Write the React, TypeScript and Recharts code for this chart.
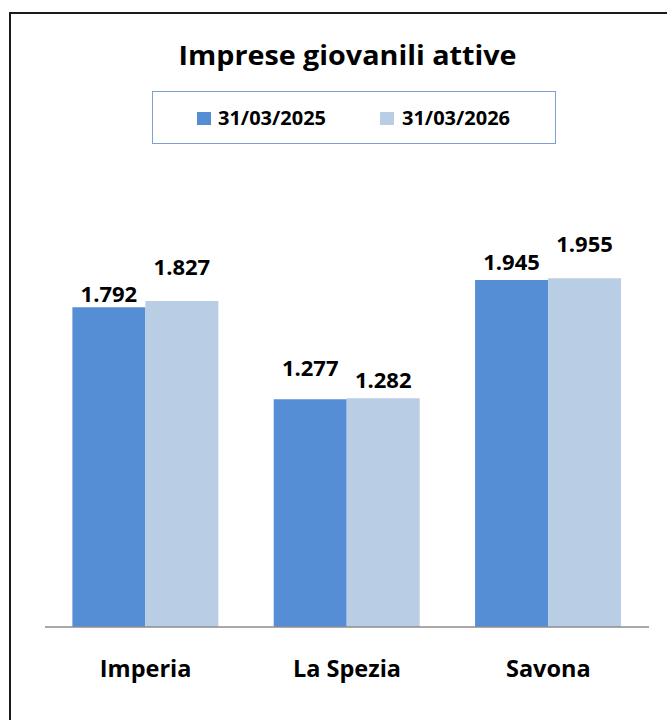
import React from 'react';
import { BarChart, Bar, XAxis, YAxis, LabelList } from 'recharts';

const title = 'Imprese giovanili attive';
const categories = ['Imperia', 'La Spezia', 'Savona'];
const seriesNames = ['31/03/2025', '31/03/2026'];
const values2025 = [1792, 1277, 1945];
const values2026 = [1827, 1282, 1955];
const yDomain = [0, 2500];

const seriesValues = [values2025, values2026];
const COLORS = ['#558ED5', '#B9CDE5'];
// manual label lift (px above bar top) per series / category, as in the original
const LABEL_RAISE = [
  [5.6, 23.6, 10.5],
  [25.6, 10.7, 26.7],
];
const FONT = "'Open Sans', 'Noto Sans', sans-serif";

const data = categories.map((c, i) => ({ name: c, s0: values2025[i], s1: values2026[i] }));

const fmt = (v: number) => String(v).replace(/\B(?=(\d{3})+(?!\d))/g, '.');

const CatTick = (props: any) => {
  const { x, y, payload } = props;
  return (
    <text x={x} y={y + 49.5} textAnchor="middle" fontFamily={FONT} fontWeight={700} fontSize={23.5} fill="#000">
      {payload.value}
    </text>
  );
};

const makeLabel = (si: number) => (props: any) => {
  const vb = props.viewBox && props.viewBox.width !== undefined ? props.viewBox : props;
  const { x, y, width } = vb;
  const value = props.value;
  let index = props.index;
  if (index === undefined || index === null) index = seriesValues[si].indexOf(Number(value));
  const raise = LABEL_RAISE[si][index] ?? 8;
  return (
    <text
      x={x + width / 2}
      y={y - raise}
      textAnchor="middle"
      fontFamily={FONT}
      fontWeight={700}
      fontSize={22}
      fill="#000"
    >
      {fmt(Number(value))}
    </text>
  );
};

export default function App() {
  return (
    <div style={{ position: 'absolute', left: 0, top: 0, width: 667, height: 720, background: '#fff', overflow: 'hidden' }}>
      <div
        style={{
          position: 'absolute',
          left: 9,
          top: 12,
          width: 720,
          height: 760,
          borderLeft: '2px solid #1a1a1a',
          borderTop: '2px solid #1a1a1a',
        }}
      />
      <svg style={{ position: 'absolute', left: 0, top: 0 }} width={667} height={90}>
        <text
          x={347.5}
          y={65}
          textAnchor="middle"
          fontFamily={FONT}
          fontWeight={700}
          fontSize={26.5}
          textLength={338}
          lengthAdjust="spacingAndGlyphs"
          fill="#000"
        >
          {title}
        </text>
      </svg>
      <div
        style={{
          position: 'absolute',
          left: 152,
          top: 91,
          width: 404,
          height: 53,
          border: '1.3px solid #7f9fd0',
          boxSizing: 'border-box',
          fontFamily: FONT,
        }}
      >
        {seriesNames.map((n, i) => (
          <React.Fragment key={n}>
            <div
              style={{
                position: 'absolute',
                left: i === 0 ? 44 : 227,
                top: 20,
                width: 14,
                height: 13,
                background: COLORS[i],
              }}
            />
            <div
              style={{
                position: 'absolute',
                left: i === 0 ? 65 : 249,
                top: 12,
                fontSize: 20,
                fontWeight: 700,
                lineHeight: '28px',
                color: '#000',
                whiteSpace: 'nowrap',
              }}
            >
              {n}
            </div>
          </React.Fragment>
        ))}
      </div>
      <div style={{ position: 'absolute', left: 0, top: 0 }}>
        <BarChart
          width={667}
          height={720}
          data={data}
          margin={{ top: 181, right: 18, left: 45, bottom: 0 }}
          barCategoryGap="13.6%"
          barGap={0}
        >
          <YAxis hide domain={yDomain} />
          <XAxis
            dataKey="name"
            interval={0}
            height={93}
            tickLine={false}
            tickSize={0}
            tickMargin={0}
            axisLine={{ stroke: '#8c8c8c', strokeWidth: 1.6 }}
            tick={<CatTick />}
          />
          <Bar dataKey="s0" name={seriesNames[0]} fill={COLORS[0]} isAnimationActive={false}>
            <LabelList dataKey="s0" content={makeLabel(0)} />
          </Bar>
          <Bar dataKey="s1" name={seriesNames[1]} fill={COLORS[1]} isAnimationActive={false}>
            <LabelList dataKey="s1" content={makeLabel(1)} />
          </Bar>
        </BarChart>
      </div>
    </div>
  );
}
